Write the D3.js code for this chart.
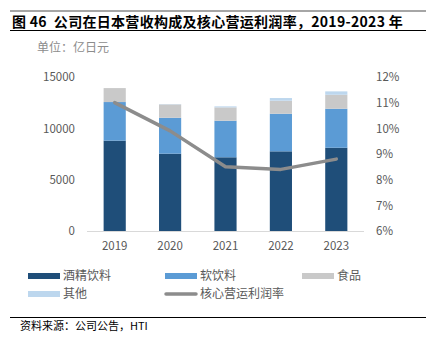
<!DOCTYPE html>
<html><head><meta charset="utf-8">
<script src="https://cdn.jsdelivr.net/npm/d3@7/dist/d3.min.js"></script>
<style>body{margin:0;background:#fff;} svg{display:block;}</style>
</head><body>
<svg id="c" width="426" height="338"></svg>
<script>
const years = ["2019","2020","2021","2022","2023"];
const alcohol = [8800, 7530, 7180, 7760, 8110];
const softDrinks = [3760, 3500, 3560, 3660, 3800];
const food = [1360, 1300, 1300, 1270, 1360];
const others = [0, 30, 100, 260, 330];
const margin = [11.0, 9.9, 8.5, 8.4, 8.8];
const leftTicks = [0, 5000, 10000, 15000];
const rightTicks = [6, 7, 8, 9, 10, 11, 12];
const seriesNames = ["酒精饮料", "软饮料", "食品", "其他"];
const lineName = "核心营运利润率";
const colors = ["#1f4e79", "#5b9bd5", "#c9c9c9", "#bdd7ee"];
const lineColor = "#8c8c8c";
const font = "'Noto Sans CJK SC','Noto Sans',sans-serif";

const svg = d3.select("#c");
const W = 426;
// header
svg.append("rect").attr("x",10).attr("y",10).attr("width",W-10).attr("height",2).attr("fill","#a6a6a6");
svg.append("text").attr("x",12).attr("y",27).attr("font-family",font).attr("font-size",14).attr("font-weight","bold").attr("fill","#000")
  .attr("letter-spacing",0.3).style("white-space","pre")
  .text("图 46  公司在日本营收构成及核心营运利润率，2019-2023 年");
svg.append("line").attr("x1",10).attr("x2",W).attr("y1",30.5).attr("y2",30.5).attr("stroke","#000").attr("stroke-width",1);
svg.append("text").attr("x",37).attr("y",52).attr("font-family",font).attr("font-size",12).attr("fill","#8c8c8c").text("单位：亿日元");

const x = d3.scaleBand().domain(years).range([87,364]).paddingInner(0.6).paddingOuter(0.3);
const y = d3.scaleLinear().domain([0,15000]).range([231,77]);
const y2 = d3.scaleLinear().domain([6,12]).range([231,77]);

const table = years.map((yr,i)=>({year:yr, a:alcohol[i], s:softDrinks[i], f:food[i], o:others[i]}));
const stack = d3.stack().keys(["a","s","f","o"])(table);

svg.append("g").selectAll("g").data(stack).join("g").attr("fill",(d,i)=>colors[i])
  .selectAll("rect").data(d=>d).join("rect")
  .attr("x",d=>x(d.data.year)).attr("width",x.bandwidth())
  .attr("y",d=>y(d[1])).attr("height",d=>y(d[0])-y(d[1]));

// left axis
const ga = svg.append("g").attr("transform","translate(75,0)")
  .call(d3.axisLeft(y).tickValues(leftTicks).tickSize(0).tickPadding(0).tickFormat(d3.format("d")));
ga.select(".domain").remove();
ga.selectAll("text").attr("font-family",font).attr("font-size",11.5).attr("fill","#595959");
// right axis
const gr = svg.append("g").attr("transform","translate(376,0)")
  .call(d3.axisRight(y2).tickValues(rightTicks).tickSize(0).tickPadding(0).tickFormat(d=>d+"%"));
gr.select(".domain").remove();
gr.selectAll("text").attr("font-family",font).attr("font-size",11.5).attr("fill","#595959");
// bottom axis
const gb = svg.append("g").attr("transform","translate(0,231)")
  .call(d3.axisBottom(x).tickSize(0).tickPadding(11));
gb.select(".domain").attr("stroke","#d9d9d9").attr("d","M87,0.5H364");
gb.selectAll("text").attr("font-family",font).attr("font-size",11.5).attr("fill","#595959");

// line
const line = d3.line().x((d,i)=>x(years[i])+x.bandwidth()/2).y(d=>y2(d));
svg.append("path").datum(margin).attr("d",line).attr("fill","none").attr("stroke",lineColor)
  .attr("stroke-width",3.5).attr("stroke-linejoin","round").attr("stroke-linecap","round");

// legend
const leg = [
  {name:seriesNames[0], c:colors[0], x:28, y:276, t:"rect"},
  {name:seriesNames[1], c:colors[1], x:165, y:276, t:"rect"},
  {name:seriesNames[2], c:colors[2], x:302, y:276, t:"rect"},
  {name:seriesNames[3], c:colors[3], x:28, y:294, t:"rect"},
  {name:lineName, c:lineColor, x:165, y:294, t:"line"}
];
const lg = svg.append("g");
leg.forEach(l=>{
  if(l.t==="rect") lg.append("rect").attr("x",l.x).attr("y",l.y-3).attr("width",32).attr("height",6).attr("fill",l.c);
  else lg.append("line").attr("x1",l.x+1).attr("x2",l.x+31).attr("y1",l.y).attr("y2",l.y).attr("stroke",l.c).attr("stroke-width",3.5).attr("stroke-linecap","round");
  lg.append("text").attr("x",l.x+35).attr("y",l.y).attr("dy","0.35em").attr("font-family",font).attr("font-size",12).attr("fill","#595959").text(l.name);
});

// source
svg.append("line").attr("x1",10).attr("x2",W).attr("y1",317.5).attr("y2",317.5).attr("stroke","#000").attr("stroke-width",1);
svg.append("text").attr("x",20).attr("y",326).attr("dy","0.35em").attr("font-family",font).attr("font-size",11).attr("fill","#000").text("资料来源：公司公告，HTI");
</script>
</body></html>
